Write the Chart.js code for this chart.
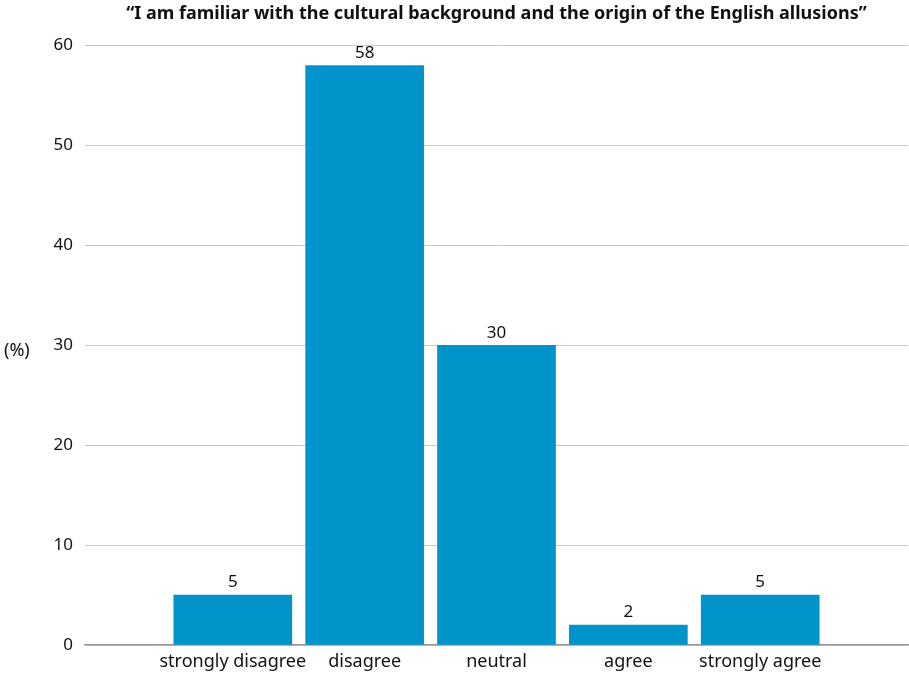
<!DOCTYPE html>
<html>
<head>
<meta charset="utf-8">
<title>Familiarity with English allusions</title>
<script src="https://cdn.jsdelivr.net/npm/chart.js@4/dist/chart.umd.min.js"></script>
<style>
  html, body { margin: 0; padding: 0; background: #fff; }
  #wrap { width: 909px; height: 676px; }
</style>
</head>
<body>
<div id="wrap"><canvas id="survey"></canvas></div>
<script>
const categories = ['strongly disagree', 'disagree', 'neutral', 'agree', 'strongly agree'];
const percents = [5, 58, 30, 2, 5];
const yTicks = [0, 10, 20, 30, 40, 50, 60];

const FONT = '"Noto Sans", sans-serif';

// value above each bar + the "(%)" unit label on the left
const labelsPlugin = {
  id: 'barLabels',
  afterDatasetsDraw(chart) {
    const ctx = chart.ctx;
    const meta = chart.getDatasetMeta(0);
    ctx.save();
    ctx.font = '17px ' + FONT;
    ctx.fillStyle = '#111';
    ctx.textAlign = 'center';
    ctx.textBaseline = 'bottom';
    meta.data.forEach((bar, i) => {
      ctx.fillText(String(percents[i]), bar.x, bar.y - 4);
    });
    const y = chart.scales.y;
    ctx.font = '18px ' + FONT;
    ctx.textAlign = 'left';
    ctx.textBaseline = 'middle';
    ctx.fillText('(%)', 4, y.getPixelForValue(30) + 6);
    ctx.restore();
  }
};

new Chart(document.getElementById('survey'), {
  type: 'bar',
  data: {
    datasets: [{
      data: percents.map((v, i) => ({ x: i + 1, y: v })),
      backgroundColor: '#0094ca',
      barThickness: 118,
      borderWidth: 0
    }]
  },
  options: {
    responsive: true,
    maintainAspectRatio: false,
    animation: false,
    layout: { padding: { left: 0, right: 1, top: 0, bottom: 0 } },
    plugins: {
      legend: { display: false },
      tooltip: { enabled: false },
      title: {
        display: true,
        fullSize: false,
        text: '\u201cI am familiar with the cultural background and the origin of the English allusions\u201d',
        color: '#111',
        font: { family: FONT, size: 18, weight: 'bold' },
        padding: { top: 3, bottom: 21 }
      }
    },
    scales: {
      x: {
        type: 'linear',
        offset: false,
        min: -0.121,
        max: 6.121,
        afterBuildTicks: s => { s.ticks = categories.map((c, i) => ({ value: i + 1 })); },
        afterFit: s => { s.height = 31; },
        ticks: {
          autoSkip: false,
          maxRotation: 0,
          color: '#111',
          padding: 6,
          font: { family: FONT, size: 18 },
          callback: v => categories[v - 1]
        },
        grid: { display: false, drawTicks: false },
        border: { color: '#999', width: 1.5 }
      },
      y: {
        min: 0,
        max: 60,
        afterBuildTicks: s => { s.ticks = yTicks.map(v => ({ value: v })); },
        afterFit: s => { s.width = 85; },
        ticks: {
          color: '#111',
          padding: 12,
          font: { family: FONT, size: 17 }
        },
        grid: { color: '#c8c8c8', lineWidth: 1, drawTicks: false },
        border: { display: false }
      }
    }
  },
  plugins: [labelsPlugin]
});
</script>
</body>
</html>
